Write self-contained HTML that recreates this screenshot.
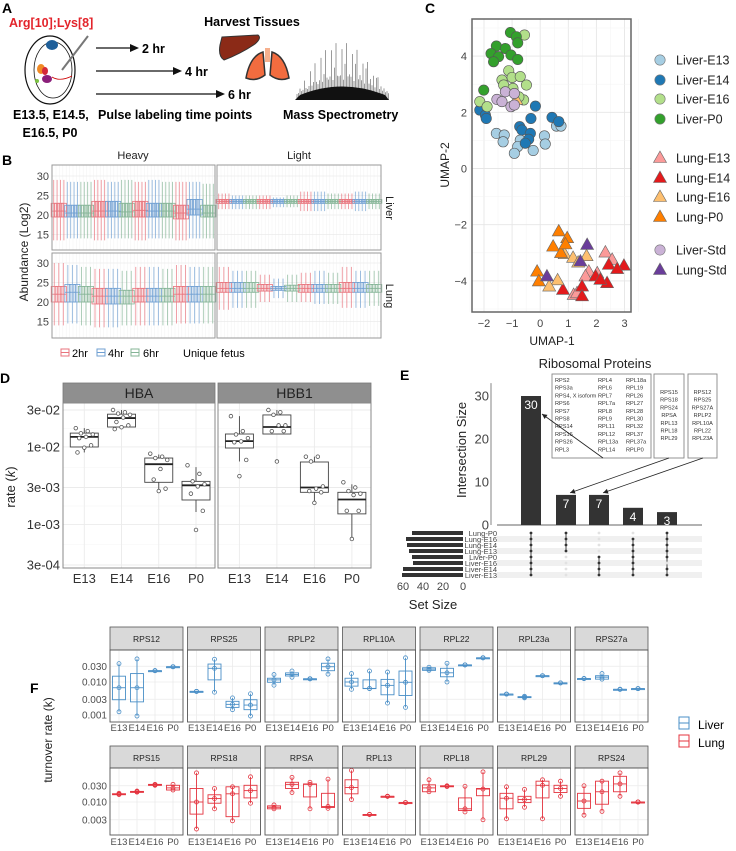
<!DOCTYPE html>
<html><head><meta charset="utf-8"><style>
html,body{margin:0;padding:0;background:#fff;}
svg{display:block;font-family:"Liberation Sans",Arial,sans-serif;}
</style></head><body>
<svg id="fig" width="736" height="851" viewBox="0 0 736 851" xmlns="http://www.w3.org/2000/svg" font-family="Liberation Sans, Arial, sans-serif">
<!-- Panel labels -->
<text x="2" y="13" font-size="14" font-weight="bold">A</text>
<text x="2" y="165" font-size="14" font-weight="bold">B</text>
<text x="425" y="13" font-size="14" font-weight="bold">C</text>
<text x="0" y="383" font-size="14" font-weight="bold">D</text>
<text x="400" y="380" font-size="14" font-weight="bold">E</text>
<text x="30" y="693" font-size="14" font-weight="bold">F</text>

<!-- Panel A -->
<g>
<text x="9" y="27" font-size="12.5" font-weight="bold" fill="#e3242b">Arg[10];Lys[8]</text>
<ellipse cx="50" cy="70" rx="25" ry="34" fill="none" stroke="#111" stroke-width="1.2"/>
<ellipse cx="53" cy="70" rx="19" ry="28" fill="none" stroke="#111" stroke-width="0.8"/>
<ellipse cx="52" cy="45" rx="6" ry="5" fill="#1f5f99"/>
<ellipse cx="41" cy="69" rx="4" ry="5" fill="#f08a24"/>
<ellipse cx="45" cy="71" rx="3" ry="4" fill="#d42a3a"/>
<ellipse cx="47" cy="79" rx="5" ry="4" fill="#8b1f7a"/>
<circle cx="37" cy="81" r="2" fill="#7cc243"/>
<line x1="62" y1="70" x2="88" y2="36" stroke="#777" stroke-width="2"/>
<path d="M52,77 Q60,82 72,76" fill="none" stroke="#c00" stroke-width="0.8"/>
<text x="13" y="119" font-size="12.5" font-weight="bold">E13.5, E14.5,</text>
<text x="50" y="137" font-size="12.5" font-weight="bold" text-anchor="middle">E16.5, P0</text>
<line x1="96" y1="48" x2="132" y2="48" stroke="#111" stroke-width="1.2"/>
<path d="M130,44 L139,48 L130,52 Z" fill="#111"/>
<text x="142" y="53" font-size="12.5" font-weight="bold">2 hr</text>
<line x1="96" y1="71" x2="176" y2="71" stroke="#111" stroke-width="1.2"/>
<path d="M173,67 L182,71 L173,75 Z" fill="#111"/>
<text x="185" y="76" font-size="12.5" font-weight="bold">4 hr</text>
<line x1="96" y1="94" x2="218" y2="94" stroke="#111" stroke-width="1.2"/>
<path d="M216,90 L225,94 L216,98 Z" fill="#111"/>
<text x="228" y="99" font-size="12.5" font-weight="bold">6 hr</text>
<text x="98" y="119" font-size="12.5" font-weight="bold">Pulse labeling time points</text>
<text x="252" y="26" font-size="12.5" font-weight="bold" text-anchor="middle">Harvest Tissues</text>
<path d="M222,37 L258,35 Q262,38 255,44 Q240,54 224,60 Q218,56 220,45 Z" fill="#8b2a17" stroke="#333" stroke-width="1"/>
<path d="M263,52 Q250,56 246,78 Q256,82 265,75 Z M272,52 Q285,56 289,78 Q279,82 270,75 Z" fill="#f26c3f" stroke="#333" stroke-width="1.5"/>
<rect x="265" y="48" width="5" height="14" fill="#f6b08e"/>
<g id="ms"></g>
<text x="283" y="119" font-size="12.5" font-weight="bold">Mass Spectrometry</text>
</g>

<!-- Panel B static -->
<g>
<text x="133" y="159" font-size="11" text-anchor="middle" fill="#222">Heavy</text>
<text x="299" y="159" font-size="11" text-anchor="middle" fill="#222">Light</text>
<text x="0" y="0" font-size="11" text-anchor="middle" fill="#222" transform="translate(386,208) rotate(90)">Liver</text>
<text x="0" y="0" font-size="11" text-anchor="middle" fill="#222" transform="translate(386,296) rotate(90)">Lung</text>
<text x="0" y="0" font-size="12" text-anchor="middle" fill="#222" transform="translate(28,252) rotate(-90)">Abundance (Log2)</text>
<text x="377" y="245" font-size="11" text-anchor="end" fill="#222">n=4</text>
<text x="377" y="333" font-size="11" text-anchor="end" fill="#222">n=3</text>
<g id="bPanels"></g>
<g>
<text x="72" y="357" font-size="11">2hr</text>
<text x="108" y="357" font-size="11">4hr</text>
<text x="143" y="357" font-size="11">6hr</text>
<text x="183" y="357" font-size="11">Unique fetus</text>
</g>
</g>

<!-- Panel C static -->
<g>
<g id="cPlot"></g>
<text x="552" y="345" font-size="12" text-anchor="middle" fill="#222">UMAP-1</text>
<text x="0" y="0" font-size="12" text-anchor="middle" fill="#222" transform="translate(449,165) rotate(-90)">UMAP-2</text>
<g id="cLegend"></g>
</g>

<!-- Panel D -->
<g>
<g id="dPlot"></g>
<text x="0" y="0" font-size="13" text-anchor="middle" fill="#222" transform="translate(15,487) rotate(-90)">rate (<tspan font-style="italic">k</tspan>)</text>
</g>

<!-- Panel E -->
<g>
<text x="595" y="368" font-size="13" text-anchor="middle" fill="#222">Ribosomal Proteins</text>
<text x="0" y="0" font-size="13" text-anchor="middle" fill="#222" transform="translate(466,450) rotate(-90)">Intersection Size</text>
<text x="433" y="609" font-size="13" text-anchor="middle" fill="#222">Set Size</text>
<g id="ePlot"></g>
</g>

<!-- Panel F -->
<g>
<g id="fPlot"></g>
<text x="0" y="0" font-size="12" text-anchor="middle" fill="#222" transform="translate(52,740) rotate(-90)">turnover rate (k)</text>
<text x="698" y="729" font-size="12">Liver</text>
<text x="698" y="747" font-size="12">Lung</text>
</g>
</svg>
<script>
const NS='http://www.w3.org/2000/svg';
const svg=document.getElementById('fig');
function mk(tag,attrs,parent){const e=document.createElementNS(NS,tag);for(const k in attrs)e.setAttribute(k,attrs[k]);(parent||svg).appendChild(e);return e;}

/* ---------------- Panel A mass spectrum (decorative) ---------------- */
(function(){
 const g=document.getElementById('ms');
 for(let i=0;i<92;i+=1.5){
  const x=297+i;
  const env=Math.sin(Math.PI*i/92);
  const sp=Math.pow(Math.abs(Math.sin(i*2.7)),2);
  const h=6+env*(14+45*sp*Math.abs(Math.cos(i*0.9)));
  const l=mk('line',{x1:x,y1:100,x2:x,y2:100-h,stroke:'#111','stroke-width':0.7,'stroke-opacity':0.6},g);
  
  
 }
 const b=mk('path',{d:'M295,100 L300,95 Q342,78 385,95 L389,100 Z',fill:'#111'},g);
 
 
})();

/* ---------------- Panel B data ---------------- */
const bTimeColors=['#e8737c','#6f9fd2','#84b496'];
const bHeavyLiverMed=[21,20.5,20.5,21,21,20.8,21.2,21,21,20.5,21.5,20.5];
const bHeavyLiverQ1=[19.5,19.5,19.5,19.5,19.5,19.5,19.5,19.5,19.5,19,20,19.5];
const bHeavyLiverQ3=[23,22.5,22.5,23.5,23.5,23,23.5,23,23,22.5,24,22.5];
const bHeavyLiverLo=[13.5,14,14,13.5,14,14,13.5,14,14,13.5,14,14];
const bHeavyLiverHi=[29,28.5,28.5,29,28.5,29,28.5,29,28.5,28.5,28.5,28];
const bLightLiverMed=[23.5,23.5,23.5,23.5,23.5,23.5,23.5,23.5,23.5,23.5,23.5,23.5];
const bLightLiverQ1=[23,23,23,23,23,23,23,23,23,23,23,23];
const bLightLiverQ3=[24,24,24,24,24,24,24,24,24,24,24,24];
const bLightLiverLo=[21.5,21.5,21.5,21.5,22,22,21,21,21.5,21.5,21,21.5];
const bLightLiverHi=[25.5,25,25,25,24.5,25,26,26,25.5,25.5,26,25.5];
const bHeavyLungMed=[22,22.5,22,21.5,21.5,21.5,21.5,21.5,21.5,22,22,22];
const bHeavyLungQ1=[20,20,20,19.5,19.5,19.5,20,20,20,20,20,20];
const bHeavyLungQ3=[24,24.5,24,23.5,23.5,23,23.5,23.5,23.5,24,24,24];
const bHeavyLungLo=[14,14.5,14,13.5,13.5,14,14,14,14,14.5,14.5,14.5];
const bHeavyLungHi=[30,29.5,29,28.5,28.5,28,29,29,28.5,29.5,29,29];
const bLightLungMed=[23.5,23.5,23.5,23.5,23.5,23.5,23.5,23.5,23.5,23.5,23.5,23.5];
const bLightLungQ1=[22.5,22.5,22.5,22.8,23,22.8,22.5,22.5,22.5,22.5,22.5,22.5];
const bLightLungQ3=[25,25,25,24.5,24,24.3,24.5,24.5,24.5,25,25,24.5];
const bLightLungLo=[18,18.5,18.5,20,21,20,20,19.5,19.5,18.5,18.5,19];
const bLightLungHi=[29,28,28,27,26,27,27.5,28,27.5,29,28,28];
const bYTicks=[15,20,25,30];
(function(){
 const host=document.getElementById('bPanels');
 const panels=[
  {name:'heavy-liver',x0:52,x1:215,yTop:165,yBot:250,y30:176,reps:4,med:bHeavyLiverMed,q1:bHeavyLiverQ1,q3:bHeavyLiverQ3,lo:bHeavyLiverLo,hi:bHeavyLiverHi,ticks:true},
  {name:'light-liver',x0:217,x1:381,yTop:165,yBot:250,y30:176,reps:4,med:bLightLiverMed,q1:bLightLiverQ1,q3:bLightLiverQ3,lo:bLightLiverLo,hi:bLightLiverHi,ticks:false},
  {name:'heavy-lung',x0:52,x1:215,yTop:253,yBot:338,y30:263,reps:3,med:bHeavyLungMed,q1:bHeavyLungQ1,q3:bHeavyLungQ3,lo:bHeavyLungLo,hi:bHeavyLungHi,ticks:true},
  {name:'light-lung',x0:217,x1:381,yTop:253,yBot:338,y30:263,reps:3,med:bLightLungMed,q1:bLightLungQ1,q3:bLightLungQ3,lo:bLightLungLo,hi:bLightLungHi,ticks:false}];
 panels.forEach(p=>{
  const g=mk('g',{},host);
  
  
  const y=v=>p.y30+(30-v)*3.9;
  const bg=mk('rect',{x:p.x0,y:p.yTop,width:p.x1-p.x0,height:p.yBot-p.yTop,fill:'#fff'},g);
  
  
  for(let gx=p.x0+4;gx<p.x1;gx+=3.4){
   const gl=mk('line',{x1:gx,y1:p.yTop,x2:gx,y2:p.yBot,stroke:'#f2f2f2','stroke-width':0.5},g);
   
   
  }
  bYTicks.forEach(t=>{
   const gl=mk('line',{x1:p.x0,y1:y(t),x2:p.x1,y2:y(t),stroke:'#ebebeb','stroke-width':0.8},g);
   
   
   if(p.ticks){
    const tl=mk('text',{x:p.x0-3,y:y(t)+4,'font-size':11,'text-anchor':'end',fill:'#444'},g);
    
    
    tl.textContent=t;
   }
  });
  const n=p.med.length, gw=(p.x1-p.x0)/n, bw=gw/p.reps;
  for(let i=0;i<n;i++){
   const col=bTimeColors[i%3];
   for(let r=0;r<p.reps;r++){
    const cx=p.x0+i*gw+(r+0.5)*bw;
    const w=mk('line',{x1:cx,y1:y(p.hi[i]),x2:cx,y2:y(p.lo[i]),stroke:col,'stroke-width':0.9,'stroke-opacity':0.75},g);
    
    
    const bx=mk('rect',{x:cx-bw*0.45-1,y:y(p.q3[i]),width:bw*0.9+2,height:y(p.q1[i])-y(p.q3[i]),fill:'none',stroke:col,'stroke-width':0.8},g);
    
    
    const m=mk('line',{x1:cx-bw*0.45-1,y1:y(p.med[i]),x2:cx+bw*0.45+1,y2:y(p.med[i]),stroke:col,'stroke-width':0.8},g);
    
    
   }
  }
  const br=mk('rect',{x:p.x0,y:p.yTop,width:p.x1-p.x0,height:p.yBot-p.yTop,fill:'none',stroke:'#999','stroke-width':1},g);
  
  
 });
 const legX=[65,101,135];
 legX.forEach((lx,i)=>{
  const ic=mk('rect',{x:lx-4,y:349,width:8,height:7,fill:'none',stroke:bTimeColors[i],'stroke-width':1},host);
  
  
  const il=mk('line',{x1:lx-4,y1:352.5,x2:lx+4,y2:352.5,stroke:bTimeColors[i],'stroke-width':1},host);
  
  
 });
})();

/* ---------------- Panel C data ---------------- */
const cGroups=['Liver-E13','Liver-E14','Liver-E16','Liver-P0','Lung-E13','Lung-E14','Lung-E16','Lung-P0','Liver-Std','Lung-Std'];
const cColors=['#a6cee3','#1f78b4','#b2df8a','#33a02c','#fb9a99','#e31a1c','#fdbf6f','#ff7f00','#cab2d6','#6a3d9a'];
const cXTicks=[-2,-1,0,1,2,3];
const cYTicks=[-4,-2,0,2,4];
const cLiverE13X=[-1.56,-1.28,-1.32,-0.71,0.15,0.18,-0.25,-0.80,-0.92,0.58,0.74];
const cLiverE13Y=[1.25,1.19,0.95,1.01,1.16,0.87,0.64,0.78,0.54,1.51,1.51];
const cLiverE14X=[-2.15,-1.95,-1.92,-0.17,-0.33,0.42,0.66,-0.73,-0.65,-0.35,-0.41,-0.53];
const cLiverE14Y=[2.08,1.90,1.78,2.22,1.78,1.82,1.67,1.49,1.37,1.25,1.04,0.90];
const cLiverE16X=[-0.56,-1.12,-1.00,-0.71,-0.49,-1.36,-1.30,-0.97,-0.59,-2.15,-1.89,-0.76];
const cLiverE16Y=[4.75,3.48,3.24,3.27,2.97,3.15,2.97,2.85,2.44,2.38,2.20,2.55];
const cLiverP0X=[-1.06,-0.85,-0.80,-1.56,-1.24,-1.75,-1.48,-1.04,-0.80,-1.66,-2.01];
const cLiverP0Y=[4.84,4.69,4.47,4.36,4.27,4.09,3.98,4.04,3.88,3.80,2.79];
const cLungE13X=[2.32,2.56,2.03,1.73,1.61,1.19,1.31];
const cLungE13Y=[-2.99,-3.25,-3.73,-3.67,-3.84,-4.50,-4.44];
const cLungE14X=[2.44,2.98,2.74,1.97,2.38,2.14,1.49,1.49,0.81];
const cLungE14Y=[-3.43,-3.46,-3.58,-3.84,-4.08,-3.96,-4.20,-4.55,-4.32];
const cLungE16X=[0.87,1.17,1.35,1.65,0.62,0.32,-0.85];
const cLungE16Y=[-3.05,-3.18,-3.35,-3.12,-3.98,-4.20,2.44];
const cLungP0X=[0.66,0.46,0.96,0.74,-0.11,-0.05,0.90];
const cLungP0Y=[-2.24,-2.78,-2.48,-3.01,-3.67,-4.02,-2.70];
const cLiverStdX=[-1.24,-0.92,-1.54,-1.36,-1.04,-0.92];
const cLiverStdY=[2.73,2.67,2.46,2.38,2.20,2.26];
const cLungStdX=[1.67,1.43,0.24];
const cLungStdY=[-2.72,-3.31,-3.84];
(function(){
 const g=document.getElementById('cPlot');
 const X0=472,X1=631,Y0=19,Y1=312;
 const sx=u=>484+(u+2)*28.1, sy=u=>168.5-u*28.1;
 for(let u=-2.5;u<=3.5;u+=0.5){
  const gl=mk('line',{x1:sx(u),y1:Y0,x2:sx(u),y2:Y1,stroke:Number.isInteger(u)?'#e6e6e6':'#f3f3f3','stroke-width':Number.isInteger(u)?0.9:0.5},g);
  
  
 }
 for(let u=-5;u<=5;u+=1){
  const gl=mk('line',{x1:X0,y1:sy(u),x2:X1,y2:sy(u),stroke:u%2===0?'#e6e6e6':'#f3f3f3','stroke-width':u%2===0?0.9:0.5},g);
  
  
 }
 cXTicks.forEach(t=>{
  const tl=mk('text',{x:sx(t),y:327,'font-size':11,'text-anchor':'middle',fill:'#444'},g);
  
  
  tl.textContent=t<0?'\u2212'+(-t):t;
 });
 cYTicks.forEach(t=>{
  const tl=mk('text',{x:467,y:sy(t)+4,'font-size':11,'text-anchor':'end',fill:'#444'},g);
  
  
  tl.textContent=t<0?'\u2212'+(-t):t;
 });
 const data=[[cLiverE13X,cLiverE13Y],[cLiverE14X,cLiverE14Y],[cLiverE16X,cLiverE16Y],[cLiverP0X,cLiverP0Y],
  [cLungE13X,cLungE13Y],[cLungE14X,cLungE14Y],[cLungE16X,cLungE16Y],[cLungP0X,cLungP0Y],[cLiverStdX,cLiverStdY],[cLungStdX,cLungStdY]];
 const tri=i=>i>=4&&i<=7||i===9;
 data.forEach((d,gi)=>{
  d[0].forEach((xv,k)=>{
   const px=sx(xv), py=sy(d[1][k]);
   let m;
   if(tri(gi)) m=mk('path',{d:`M${px},${py-7} L${px+6.5},${py+4.5} L${px-6.5},${py+4.5} Z`,fill:cColors[gi],stroke:'#666','stroke-width':0.6},g);
   else m=mk('circle',{cx:px,cy:py,r:5.2,fill:cColors[gi],stroke:'#555','stroke-width':0.6},g);
   
   
  });
 });
 const br=mk('rect',{x:X0,y:Y0,width:X1-X0,height:Y1-Y0,fill:'none',stroke:'#666','stroke-width':1.5},g);
 
 
 const lg=document.getElementById('cLegend');
 const ly=[60,80,99,119,158,178,197,217,250,270];
 cGroups.forEach((nm,i)=>{
  let k;
  const px=660,py=ly[i];
  if(tri(i)) k=mk('path',{d:`M${px},${py-7} L${px+6.5},${py+4.5} L${px-6.5},${py+4.5} Z`,fill:cColors[i],stroke:'#666','stroke-width':0.6},lg);
  else k=mk('circle',{cx:px,cy:py,r:5.2,fill:cColors[i],stroke:'#777','stroke-width':0.6},lg);
  
  
  const t=mk('text',{x:676,y:py+4.5,'font-size':12.5,fill:'#222'},lg);
  
  
  t.textContent=nm;
 });
})();

/* ---------------- Panel D data ---------------- */
const dFacets=['HBA','HBB1'];
const dCategories=['E13','E14','E16','P0'];
const dYTicks=[0.03,0.01,0.003,0.001,0.0003];
const dYTickLabels=['3e-02','1e-02','3e-03','1e-03','3e-04'];
const dHbaLo=[0.0085,0.017,0.0027,0.00145];
const dHbaQ1=[0.0100,0.0181,0.0035,0.00207];
const dHbaMed=[0.0135,0.0236,0.0060,0.0032];
const dHbaQ3=[0.0151,0.0265,0.0072,0.0036];
const dHbaHi=[0.0175,0.030,0.0080,0.0055];
const dHbb1Lo=[0.0065,0.0147,0.0018,0.00065];
const dHbb1Q1=[0.0097,0.0147,0.0026,0.00137];
const dHbb1Med=[0.0119,0.0181,0.0030,0.0021];
const dHbb1Q3=[0.0147,0.0259,0.0064,0.0026];
const dHbb1Hi=[0.025,0.030,0.0075,0.0033];
const dHbaPoints=[[0.0175,0.016,0.015,0.0145,0.0135,0.013,0.0105,0.0098,0.0085],[0.030,0.028,0.027,0.026,0.024,0.021,0.019,0.018,0.017],[0.0082,0.0075,0.0072,0.0068,0.0052,0.0038,0.0029,0.0027],[0.0058,0.0045,0.0036,0.0033,0.0031,0.0025,0.0015,0.00085]];
const dHbb1Points=[[0.025,0.016,0.0145,0.013,0.0118,0.0115,0.0068,0.0042],[0.030,0.028,0.026,0.019,0.019,0.016,0.016,0.0065],[0.0075,0.0075,0.0065,0.0031,0.0029,0.0027,0.0026,0.0019],[0.0035,0.003,0.0027,0.0025,0.0024,0.0015,0.0015,0.00065]];
(function(){
 const g=document.getElementById('dPlot');
 const facets=[{x0:63,x1:215,lo:dHbaLo,q1:dHbaQ1,med:dHbaMed,q3:dHbaQ3,hi:dHbaHi,pts:dHbaPoints},
  {x0:218,x1:371,lo:dHbb1Lo,q1:dHbb1Q1,med:dHbb1Med,q3:dHbb1Q3,hi:dHbb1Hi,pts:dHbb1Points}];
 const yT=403,yB=568;
 const sy=v=>410+(Math.log10(0.03)-Math.log10(v))*77.5;
 facets.forEach((f,fi)=>{
  const w=f.x1-f.x0;
  const sx=i=>f.x0+w*(0.14+i*0.245);
  const st=mk('rect',{x:f.x0,y:383,width:w,height:20,fill:'#8f8f8f',stroke:'#777','stroke-width':0.8},g);
  
  
  const stt=mk('text',{x:f.x0+w/2,y:398,'font-size':14,'text-anchor':'middle',fill:'#222'},g);
  
  
  stt.textContent=dFacets[fi];
  dYTicks.forEach((t,ti)=>{
   const gl=mk('line',{x1:f.x0,y1:sy(t),x2:f.x1,y2:sy(t),stroke:'#ebebeb','stroke-width':0.9},g);
   
   
   if(ti<dYTicks.length-1){
    const gm=mk('line',{x1:f.x0,y1:(sy(t)+sy(dYTicks[ti+1]))/2,x2:f.x1,y2:(sy(t)+sy(dYTicks[ti+1]))/2,stroke:'#f5f5f5','stroke-width':0.5},g);
    
    
   }
   if(fi===0){
    const tl=mk('text',{x:f.x0-3,y:sy(t)+4.5,'font-size':13,'text-anchor':'end',fill:'#333'},g);
    
    
    tl.textContent=dYTickLabels[ti];
   }
  });
  dCategories.forEach((c,i)=>{
   const gl=mk('line',{x1:sx(i),y1:yT,x2:sx(i),y2:yB,stroke:'#ebebeb','stroke-width':0.9},g);
   
   
   const tl=mk('text',{x:sx(i),y:583,'font-size':13,'text-anchor':'middle',fill:'#333'},g);
   
   
   tl.textContent=c;
   const wl=mk('line',{x1:sx(i),y1:sy(f.hi[i]),x2:sx(i),y2:sy(f.lo[i]),stroke:'#444','stroke-width':0.9},g);
   
   
   const bx=mk('rect',{x:sx(i)-14,y:sy(f.q3[i]),width:28,height:sy(f.q1[i])-sy(f.q3[i]),fill:'#fff',stroke:'#444','stroke-width':0.9},g);
   
   
   const md=mk('line',{x1:sx(i)-14,y1:sy(f.med[i]),x2:sx(i)+14,y2:sy(f.med[i]),stroke:'#222','stroke-width':1.8},g);
   
   
   f.pts[i].forEach((v,k)=>{
    const off=((k*7)%11-5)*1.7;
    const p=mk('circle',{cx:sx(i)+off,cy:sy(v),r:1.8,fill:'#fff',stroke:'#555','stroke-width':0.8},g);
    
    
   });
  });
  const br=mk('rect',{x:f.x0,y:yT,width:w,height:yB-yT,fill:'none',stroke:'#888','stroke-width':1},g);
  
  
 });
})();

/* ---------------- Panel E data ---------------- */
const eIntersectionSizes=[30,7,7,4,3];
const eSetNames=['Lung-P0','Lung-E16','Lung-E14','Lung-E13','Liver-P0','Liver-E16','Liver-E14','Liver-E13'];
const eSetSizes=[51,57,56,54,51,50,60,61];
const eMembership=[[0,1,2,3,4,5,6,7],[0,1,2,3],[4,5,6,7],[1,2,3,4,5,6,7],[0,1,2,3,4,6,7]];
const eYTicks=[0,10,20,30];
const eSetTicks=[60,40,20,0];
const eBox1Col1=['RPS2','RPS3a','RPS4, X isoform','RPS6','RPS7','RPS8','RPS14','RPS16','RPS26','RPL3'];
const eBox1Col2=['RPL4','RPL6','RPL7','RPL7a','RPL8','RPL9','RPL11','RPL12','RPL13a','RPL14'];
const eBox1Col3=['RPL18a','RPL19','RPL26','RPL27','RPL28','RPL30','RPL32','RPL37','RPL37a','RPLP0'];
const eBox2=['RPS15','RPS18','RPS24','RPSA','RPL13','RPL18','RPL29'];
const eBox3=['RPS12','RPS25','RPS27A','RPLP2','RPL10A','RPL22','RPL23A'];
(function(){
 const g=document.getElementById('ePlot');
 const sy=v=>525-v*4.3;
 const colX=[531,566,599,633,667];
 const rowY=i=>533+i*6;
 eYTicks.forEach(t=>{
  const tl=mk('text',{x:489,y:sy(t)+4.5,'font-size':13,'text-anchor':'end',fill:'#444'},g);
  
  
  tl.textContent=t;
 });
 const ax=mk('line',{x1:497,y1:525,x2:702,y2:525,stroke:'#333','stroke-width':0.8},g);
 
 
 const ay=mk('line',{x1:491,y1:sy(33),x2:491,y2:525,stroke:'#333','stroke-width':0.6},g);
 
 
 eIntersectionSizes.forEach((v,i)=>{
  const b=mk('rect',{x:colX[i]-10,y:sy(v),width:20,height:525-sy(v),fill:'#333'},g);
  
  
  const t=mk('text',{x:colX[i],y:sy(v)+13,'font-size':12,'text-anchor':'middle',fill:'#fff'},g);
  
  
  t.textContent=v;
 });
 eSetNames.forEach((nm,i)=>{
  if(i%2===1){
   const sh=mk('rect',{x:497,y:rowY(i)-3,width:205,height:6,fill:'#f0f0f0'},g);
   
   
  }
  const t=mk('text',{x:497,y:rowY(i)+3,'font-size':7.5,'text-anchor':'end',fill:'#444'},g);
  
  
  t.textContent=nm;
  const sb=mk('rect',{x:463-eSetSizes[i],y:rowY(i)-2,width:eSetSizes[i],height:4,fill:'#333'},g);
  
  
 });
 eSetTicks.forEach(t=>{
  const tl=mk('text',{x:463-t,y:590,'font-size':11,'text-anchor':'middle',fill:'#444'},g);
  
  
  tl.textContent=t;
 });
 colX.forEach((cx,c)=>{
  const mem=eMembership[c];
  const mn=Math.min(...mem), mx=Math.max(...mem);
  const ln=mk('line',{x1:cx,y1:rowY(mn),x2:cx,y2:rowY(mx),stroke:'#333','stroke-width':0.9},g);
  
  
  eSetNames.forEach((nm,r)=>{
   const inSet=mem.includes(r);
   const d=mk('circle',{cx:cx,cy:rowY(r),r:1.4,fill:inSet?'#333':'#e2e2e2'},g);
   
   
  });
 });
 const boxes=[{x:552,w:99},{x:654,w:30},{x:688,w:29}];
 boxes.forEach(b=>{
  const r=mk('rect',{x:b.x,y:374,width:b.w,height:84,fill:'#fff',stroke:'#888','stroke-width':0.9},g);
  
  
 });
 const cols=[[eBox1Col1,555,'start',382],[eBox1Col2,598,'start',382],[eBox1Col3,626,'start',382],[eBox2,669,'middle',394],[eBox3,702.5,'middle',394]];
 cols.forEach(c=>{
  c[0].forEach((s,i)=>{
   const t=mk('text',{x:c[1],y:c[3]+i*7.7,'font-size':5.6,'text-anchor':c[2],fill:'#333'},g);
   
   
   t.textContent=s;
  });
 });
 const arrows=[[603,458,colX[0]+11,sy(eIntersectionSizes[0])+18],[669,458,colX[1]+4,sy(eIntersectionSizes[1])-2],[703,458,colX[2]+4,sy(eIntersectionSizes[2])-2]];
 arrows.forEach(a=>{
  const l=mk('line',{x1:a[0],y1:a[1],x2:a[2],y2:a[3],stroke:'#222','stroke-width':0.8},g);
  
  
  const ang=Math.atan2(a[3]-a[1],a[2]-a[0]);
  const hx=a[2],hy=a[3],L=5,W=2.5;
  const bx=hx-L*Math.cos(ang),by=hy-L*Math.sin(ang);
  const h=mk('path',{d:`M${hx},${hy} L${bx-W*Math.sin(ang)},${by+W*Math.cos(ang)} L${bx+W*Math.sin(ang)},${by-W*Math.cos(ang)} Z`,fill:'#222'},g);
  
  
 });
})();

/* ---------------- Panel F data ---------------- */
const fCategories=['E13','E14','E16','P0'];
const fLiverProteins=['RPS12','RPS25','RPLP2','RPL10A','RPL22','RPL23a','RPS27a'];
const fLungProteins=['RPS15','RPS18','RPSA','RPL13','RPL18','RPL29','RPS24'];
const fRow1Ticks=[0.03,0.01,0.003,0.001];
const fRow1TickLabels=['0.030','0.010','0.003','0.001'];
const fRow2Ticks=[0.03,0.01,0.003];
const fRow2TickLabels=['0.030','0.010','0.003'];
/* each stage: [low whisker, q1, median, q3, high whisker] */
const fLiverStats=[
 [[0.00125,0.0029,0.0067,0.015,0.036],[0.00093,0.0025,0.0067,0.018,0.050],[0.022,0.022,0.022,0.022,0.022],[0.029,0.029,0.029,0.029,0.029]],
 [[0.0052,0.0052,0.0052,0.0052,0.0052],[0.0049,0.0116,0.026,0.035,0.049],[0.00145,0.0017,0.0021,0.0026,0.0033],[0.00093,0.00145,0.0020,0.0029,0.0044]],
 [[0.0080,0.0098,0.0116,0.013,0.0168],[0.0139,0.0152,0.0168,0.0189,0.0215],[0.0125,0.0125,0.0125,0.0125,0.0125],[0.0173,0.022,0.029,0.037,0.050]],
 [[0.006,0.0075,0.010,0.013,0.018],[0.0063,0.0063,0.0064,0.0116,0.0215],[0.0023,0.0041,0.0079,0.012,0.020],[0.0017,0.0039,0.0098,0.0215,0.054]],
 [[0.0225,0.0225,0.0246,0.027,0.028],[0.010,0.0144,0.019,0.026,0.037],[0.033,0.033,0.033,0.033,0.033],[0.054,0.054,0.054,0.054,0.054]],
 [[0.0043,0.0043,0.0043,0.0043,0.0043],[0.0033,0.0034,0.0035,0.0036,0.0037],[0.0155,0.0155,0.0155,0.0155,0.0155],[0.0094,0.0094,0.0094,0.0094,0.0094]],
 [[0.0127,0.0127,0.0127,0.0127,0.0127],[0.0122,0.0122,0.014,0.0155,0.018],[0.006,0.006,0.006,0.006,0.006],[0.0063,0.0063,0.0063,0.0063,0.0063]]];
const fLungStats=[
 [[0.0165,0.0165,0.0170,0.0175,0.018],[0.0195,0.0195,0.020,0.0205,0.021],[0.031,0.031,0.032,0.033,0.033],[0.0225,0.0225,0.026,0.031,0.033]],
 [[0.0016,0.0044,0.010,0.025,0.072],[0.0063,0.0092,0.0126,0.0163,0.025],[0.0028,0.0037,0.0174,0.028,0.028],[0.0092,0.0132,0.0216,0.031,0.055]],
 [[0.0063,0.0063,0.0070,0.0077,0.0082],[0.019,0.025,0.033,0.038,0.053],[0.0063,0.0141,0.033,0.034,0.038],[0.0065,0.0069,0.0074,0.018,0.047]],
 [[0.0118,0.0174,0.0266,0.045,0.085],[0.0043,0.0043,0.0043,0.0043,0.0043],[0.0147,0.0147,0.0147,0.0147,0.0147],[0.0096,0.0096,0.0096,0.0096,0.0096]],
 [[0.020,0.020,0.026,0.032,0.045],[0.0285,0.0285,0.029,0.030,0.030],[0.0051,0.0056,0.0063,0.0132,0.029],[0.0030,0.0153,0.024,0.025,0.077]],
 [[0.0032,0.0063,0.0129,0.018,0.028],[0.0070,0.0096,0.0118,0.0147,0.0235],[0.0032,0.0132,0.031,0.041,0.045],[0.0147,0.019,0.025,0.031,0.041]],
 [[0.0041,0.0065,0.0107,0.018,0.030],[0.0053,0.0086,0.020,0.041,0.041],[0.0147,0.020,0.034,0.057,0.072],[0.010,0.010,0.010,0.010,0.010]]];
(function(){
 const g=document.getElementById('fPlot');
 const rows=[{names:fLiverProteins,stats:fLiverStats,col:'#4a8fc7',sT:627,pT:650,pB:722,y10:682,dec:33,ticks:fRow1Ticks,tl:fRow1TickLabels,xl:731},
  {names:fLungProteins,stats:fLungStats,col:'#e4343f',sT:746,pT:768,pB:835,y10:802,dec:34,ticks:fRow2Ticks,tl:fRow2TickLabels,xl:845}];
 rows.forEach(r=>{
  const sy=v=>Math.max(r.pT+1,Math.min(r.pB-1,r.y10-(Math.log10(v)+2)*r.dec));
  r.names.forEach((nm,pi)=>{
   const x0=110+pi*77.5,w=73;
   const sx=i=>x0+9+i*18;
   const st=mk('rect',{x:x0,y:r.sT,width:w,height:r.pT-r.sT,fill:'#d9d9d9',stroke:'#555','stroke-width':0.8},g);
   
   
   const stt=mk('text',{x:x0+w/2,y:r.sT+15,'font-size':8.5,'text-anchor':'middle',fill:'#222'},g);
   
   
   stt.textContent=nm;
   r.ticks.forEach((t,ti)=>{
    const y=r.y10-(Math.log10(t)+2)*r.dec;
    const gl=mk('line',{x1:x0,y1:y,x2:x0+w,y2:y,stroke:'#ebebeb','stroke-width':0.8},g);
    
    
    if(pi===0){
     const tl=mk('text',{x:x0-3,y:y+3.5,'font-size':10,'text-anchor':'end',fill:'#4d4d4d'},g);
     
     
     tl.textContent=r.tl[ti];
    }
   });
   fCategories.forEach((c,i)=>{
    const gl=mk('line',{x1:sx(i),y1:r.pT,x2:sx(i),y2:r.pB,stroke:'#ebebeb','stroke-width':0.8},g);
    
    
    const s=r.stats[pi][i];
    const wl=mk('line',{x1:sx(i),y1:sy(s[4]),x2:sx(i),y2:sy(s[0]),stroke:r.col,'stroke-width':0.9},g);
    
    
    const bx=mk('rect',{x:sx(i)-6.5,y:sy(s[3]),width:13,height:Math.max(1,sy(s[1])-sy(s[3])),fill:'none',stroke:r.col,'stroke-width':0.9},g);
    
    
    const md=mk('line',{x1:sx(i)-6.5,y1:sy(s[2]),x2:sx(i)+6.5,y2:sy(s[2]),stroke:r.col,'stroke-width':0.9},g);
    
    
    [s[0],s[2],s[4]].forEach(v=>{
     const p=mk('circle',{cx:sx(i),cy:sy(v),r:2,fill:'none',stroke:r.col,'stroke-width':0.8},g);
     
     
    });
    const xl=mk('text',{x:sx(i),y:r.xl,'font-size':9.5,'text-anchor':'middle',fill:'#4d4d4d'},g);
    
    
    xl.textContent=c;
   });
   const br=mk('rect',{x:x0,y:r.pT,width:w,height:r.pB-r.pT,fill:'none',stroke:'#555','stroke-width':0.9},g);
   
   
  });
 });
 [['#4a8fc7',724],['#e4343f',742]].forEach(k=>{
  const r=mk('rect',{x:679,y:k[1]-7,width:10,height:12,fill:'none',stroke:k[0],'stroke-width':1},g);
  
  
  const l=mk('line',{x1:679,y1:k[1]-1,x2:689,y2:k[1]-1,stroke:k[0],'stroke-width':1},g);
  
  
 });
})();
</script>
</body></html>
